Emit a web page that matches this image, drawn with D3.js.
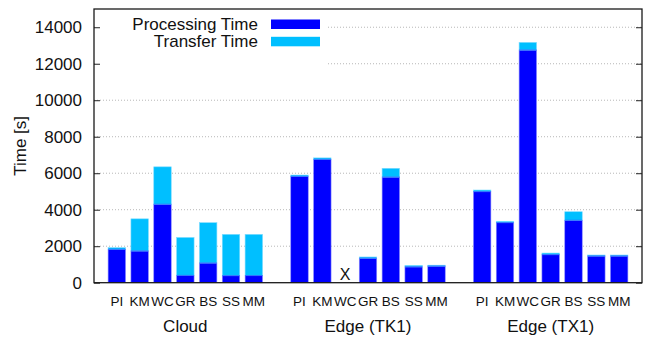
<!DOCTYPE html>
<html>
<head>
<meta charset="utf-8">
<script src="https://cdn.jsdelivr.net/npm/d3@7"></script>
<style>
  body { margin: 0; background: #fff; }
  svg text { font-family: "Liberation Sans", Arial, Helvetica, sans-serif; fill: #111; }
</style>
</head>
<body>
<svg id="chart" width="646" height="337"></svg>
<script>
// Benchmarks run on each platform
const benchmarks = ["PI", "KM", "WC", "GR", "BS", "SS", "MM"];
const platforms = ["Cloud", "Edge (TK1)", "Edge (TX1)"];

// Seconds spent computing, per platform, per benchmark (null = did not run)
const processingCloud = [1830, 1740, 4300, 400, 1080, 385, 390];
const processingTK1   = [5830, 6760, null, 1340, 5790, 870, 910];
const processingTX1   = [4990, 3290, 12750, 1535, 3420, 1463, 1463];

// Seconds spent moving data, per platform, per benchmark
const transferCloud = [90, 1760, 2050, 2080, 2210, 2265, 2260];
const transferTK1   = [70, 80, null, 70, 480, 80, 50];
const transferTX1   = [90, 75, 420, 90, 470, 55, 55];

const yTicks = [0, 2000, 4000, 6000, 8000, 10000, 12000, 14000];

const processing = [processingCloud, processingTK1, processingTX1];
const transfer = [transferCloud, transferTK1, transferTX1];

const COLOR_PROC = "#0000ff";
const COLOR_XFER = "#00bfff";

const svg = d3.select("#chart");
const plotL = 94, plotR = 642, plotT = 9, plotB = 282.7;

// Each platform occupies 7 slots with one empty slot between platforms
const slotsPerGroup = benchmarks.length + 1;
const x = d3.scaleLinear().domain([-1, platforms.length * slotsPerGroup - 1]).range([plotL, plotR]);
const y = d3.scaleLinear().domain([0, 15000]).range([plotB, plotT]);
const barW = (x(1) - x(0)) * 0.765;

const rows = [];
platforms.forEach((p, gi) => {
  benchmarks.forEach((b, bi) => {
    rows.push({
      platform: p, bench: b,
      slot: gi * slotsPerGroup + bi,
      proc: processing[gi][bi],
      xfer: transfer[gi][bi]
    });
  });
});

// Dotted grid lines
svg.append("g").selectAll("line").data(yTicks.filter(d => d > 0)).join("line")
  .attr("x1", plotL).attr("x2", plotR)
  .attr("y1", d => y(d)).attr("y2", d => y(d))
  .attr("stroke", "#b8b8b8").attr("stroke-width", 1)
  .attr("stroke-dasharray", "1,2");

// Key background hides the grid behind it
svg.append("rect")
  .attr("x", plotL + 1).attr("y", plotT + 1)
  .attr("width", 328 - plotL - 1).attr("height", 60)
  .attr("fill", "#fff");

// Stacked bars
const bars = svg.append("g");
const valid = rows.filter(r => r.proc != null);
bars.selectAll("rect.proc").data(valid).join("rect")
  .attr("class", "proc")
  .attr("x", r => x(r.slot) - barW / 2)
  .attr("width", barW)
  .attr("y", r => y(r.proc))
  .attr("height", r => y(0) - y(r.proc))
  .attr("fill", COLOR_PROC)
  .attr("stroke", "#8c8cff").attr("stroke-width", 0.6);
bars.selectAll("rect.xfer").data(valid).join("rect")
  .attr("class", "xfer")
  .attr("x", r => x(r.slot) - barW / 2)
  .attr("width", barW)
  .attr("y", r => y(r.proc + r.xfer))
  .attr("height", r => y(r.proc) - y(r.proc + r.xfer))
  .attr("fill", COLOR_XFER)
  .attr("stroke", "#7fdcff").attr("stroke-width", 0.6);
// Divider between the two parts of each bar
bars.selectAll("line.div").data(valid).join("line")
  .attr("class", "div")
  .attr("x1", r => x(r.slot) - barW / 2).attr("x2", r => x(r.slot) + barW / 2)
  .attr("y1", r => y(r.proc)).attr("y2", r => y(r.proc))
  .attr("stroke", "#2a6cff").attr("stroke-width", 1);

// Marker for a benchmark that could not run
svg.append("g").selectAll("text").data(rows.filter(r => r.proc == null)).join("text")
  .attr("x", r => x(r.slot)).attr("y", y(0) - 3)
  .attr("text-anchor", "middle")
  .attr("font-size", 16)
  .text("X");

// Y axis ticks on both sides, pointing inward
const yAxisL = d3.axisLeft(y).tickValues(yTicks).tickSize(-6).tickPadding(12).tickFormat(d3.format("d"));
const gy = svg.append("g").attr("transform", `translate(${plotL},0)`).call(yAxisL);
gy.select(".domain").remove();
gy.selectAll(".tick line").attr("stroke", "#222");
gy.selectAll(".tick text").attr("font-size", 17).attr("fill", "#111")
  .attr("font-family", "'Liberation Sans', Arial, sans-serif");

const yAxisR = d3.axisRight(y).tickValues(yTicks).tickSize(-6).tickFormat("");
const gyr = svg.append("g").attr("transform", `translate(${plotR},0)`).call(yAxisR);
gyr.select(".domain").remove();
gyr.selectAll(".tick line").attr("stroke", "#222");

// Plot frame
svg.append("rect")
  .attr("x", plotL).attr("y", plotT)
  .attr("width", plotR - plotL).attr("height", plotB - plotT)
  .attr("fill", "none").attr("stroke", "#1a1a1a").attr("stroke-width", 1.3);

// Benchmark labels
svg.append("g").selectAll("text").data(rows).join("text")
  .attr("x", r => x(r.slot)).attr("y", 305.5)
  .attr("text-anchor", "middle")
  .attr("font-size", 13.5)
  .text(r => r.bench);

// Platform labels
svg.append("g").selectAll("text").data(platforms).join("text")
  .attr("x", (p, i) => x(i * slotsPerGroup + (benchmarks.length - 1) / 2))
  .attr("y", 331.5)
  .attr("text-anchor", "middle")
  .attr("font-size", 17)
  .text(p => p);

// Y axis title
svg.append("text")
  .attr("transform", `translate(26,${(plotT + plotB) / 2}) rotate(-90)`)
  .attr("text-anchor", "middle")
  .attr("font-size", 17)
  .text("Time [s]");

// Key
const key = [
  { label: "Processing Time", color: COLOR_PROC },
  { label: "Transfer Time", color: COLOR_XFER }
];
const kg = svg.append("g").selectAll("g").data(key).join("g")
  .attr("transform", (d, i) => `translate(0,${i * 17.3})`);
kg.append("text")
  .attr("x", 258).attr("y", 30)
  .attr("text-anchor", "end")
  .attr("font-size", 17)
  .text(d => d.label);
kg.append("rect")
  .attr("x", 271).attr("y", 19.5)
  .attr("width", 49).attr("height", 9.5)
  .attr("fill", d => d.color);
</script>
</body>
</html>
